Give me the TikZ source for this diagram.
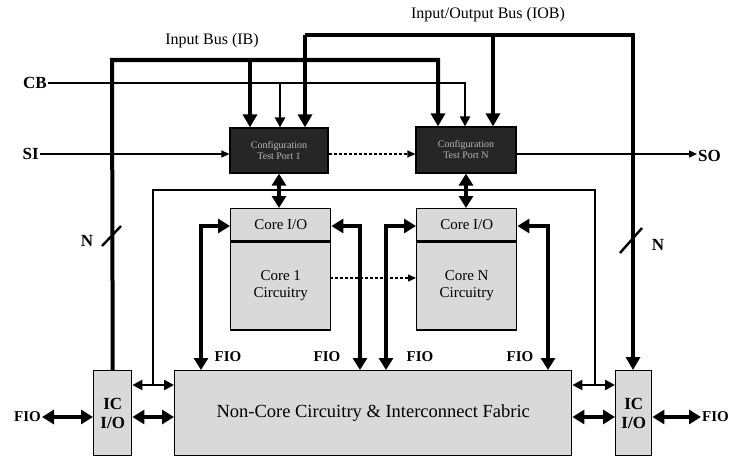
\documentclass[tikz,border=0pt]{standalone}
\usepackage{fontspec}
\setmainfont{Liberation Serif}
\usetikzlibrary{arrows.meta,calc}
\begin{document}
\begin{tikzpicture}[x=1pt,y=-1pt,
  bus/.style={line width=4pt},
  midline/.style={line width=2.4pt},
  thinline/.style={line width=1.2pt},
  bighead/.style={-{Triangle[length=13pt,width=14pt]}},
  bigboth/.style={{Triangle[length=12pt,width=14pt]}-{Triangle[length=12pt,width=14pt]}},
  medhead/.style={-{Triangle[length=10pt,width=10pt]}},
  smallhead/.style={-{Triangle[length=8pt,width=7pt]}},
  darkbox/.style={draw=black,line width=1.2pt,fill=black!85,text=gray!55,align=center,
     font=\fontsize{10}{11}\selectfont,inner sep=0pt},
  graybox/.style={draw=black,line width=1.4pt,fill=gray!30,align=center,inner sep=0pt,
     font=\fontsize{15}{17}\selectfont},
  lbl/.style={font=\fontsize{17}{19}\selectfont\bfseries,inner sep=1pt},
  flbl/.style={font=\fontsize{15}{17}\selectfont\bfseries,inner sep=1pt},
]
\useasboundingbox (0,0) rectangle (738,460);

% ---- boxes
\node[darkbox,minimum width=98pt,minimum height=45pt] (tp1) at (279,150.5) {Configuration\\Test Port 1};
\node[darkbox,minimum width=100pt,minimum height=46pt] (tpN) at (466,150) {Configuration\\Test Port N};

\node[graybox,anchor=north west,minimum width=100pt,minimum height=32pt] (io1) at (230,208) {Core I/O};
\node[graybox,anchor=north,minimum width=100pt,minimum height=88pt] (c1) at (io1.south) {Core 1\\Circuitry};
\node[graybox,anchor=north west,minimum width=100pt,minimum height=32pt] (ioN) at (416,208) {Core I/O};
\node[graybox,anchor=north,minimum width=100pt,minimum height=88pt] (cN) at (ioN.south) {Core N\\Circuitry};

\node[graybox,anchor=north west,minimum width=397pt,minimum height=85pt,font=\fontsize{18.5}{20}\selectfont] (nc) at (174,370) {Non-Core Circuitry \& Interconnect Fabric};
\node[graybox,anchor=north west,minimum width=38pt,minimum height=85pt,font=\fontsize{17}{19}\selectfont\bfseries] (icl) at (93,370) {IC\\I/O};
\node[graybox,anchor=north west,minimum width=36pt,minimum height=85pt,font=\fontsize{17}{19}\selectfont\bfseries] (icr) at (615,370) {IC\\I/O};

% ---- labels
\node[font=\fontsize{16}{18}\selectfont] (iblbl) at (212,41) {Input Bus (IB)};
\node[font=\fontsize{16}{18}\selectfont] (ioblbl) at (488,15) {Input/Output Bus (IOB)};
\node[lbl,anchor=east] (cb) at (48,83) {CB};
\node[lbl,anchor=east] (si) at (40,154) {SI};
\node[lbl,anchor=west] (so) at (697,156) {SO};
\node[lbl] (nl) at (87,241) {N};
\node[lbl] (nr) at (658,245) {N};
\node[flbl,anchor=east] (fiol) at (42,417) {FIO};
\node[flbl,anchor=west] (fior) at (701,417) {FIO};
\node[flbl] (f1) at (228,357) {FIO};
\node[flbl] (f2) at (327,357) {FIO};
\node[flbl] (f3) at (420,357) {FIO};
\node[flbl] (f4) at (520,357) {FIO};

% ---- coordinates
\coordinate (ibL) at (112,60);
\coordinate (ibR) at (438,60);
\coordinate (ib1) at (250,60);
\coordinate (cbR) at (465,83);
\coordinate (cb1) at (280,83);
\coordinate (iobL) at (305,35);
\coordinate (iobR) at (633,35);
\coordinate (iobN) at (493,35);
\coordinate (hl) at (153,190);
\coordinate (hr) at (595,190);
\coordinate (sl) at (153,385);
\coordinate (sr) at (595,385);
\coordinate (a1) at (201,226);
\coordinate (b1) at (360,226);
\coordinate (aN) at (386,226);
\coordinate (bN) at (548,226);
\coordinate (dot) at (330,278);
\coordinate (fl) at (0,417);

% ---- input bus
\draw[bus,bighead] (icl.north) -- (ibL) -- (ibR) -- (ibR |- tpN.north);
\draw[bus,bighead] (ib1) -- (ib1 |- tp1.north);
% ---- CB
\draw[midline,medhead] (cb.east) -- (cbR) -- (cbR |- tpN.north);
\draw[midline,medhead] (cb1) -- (cb1 |- tp1.north);
% ---- IOB
\draw[bus,bighead] (iobL) -- (iobL |- tp1.north);
\draw[bus,bighead] (iobL) -- (iobR) -- (iobR |- icr.north);
\draw[bus,bighead] (iobN) -- (iobN |- tpN.north);
% ---- slashes
\draw[midline] (102,246) -- (121,226);
\draw[midline] (620,253) -- (642,228);

% ---- scan chain
\draw[thinline,smallhead] (si.east) -- (si.east -| tp1.west);
\draw[thinline,densely dashed,smallhead] (tp1.east |- 0,154) -- (tpN.west |- 0,154);
\draw[thinline,smallhead] (tpN.east |- 0,154) -- (so.west |- 0,154);

% ---- test port to core I/O
\draw[bus,bigboth] (tp1.south) -- (tp1.south |- io1.north);
\draw[bus,bigboth] (tpN.south) -- (tpN.south |- ioN.north);

% ---- loop line
\draw[midline] (sl) -- (hl) -- (hr) -- (sr);
\draw[midline,medhead] (sl) -- (sl -| icl.east);
\draw[midline,medhead] (sl) -- (sl -| nc.west);
\draw[midline,medhead] (sr) -- (sr -| nc.east);
\draw[midline,medhead] (sr) -- (sr -| icr.west);

% ---- core FIO
\draw[bus,bigboth] (a1 |- nc.north) -- (a1) -- (a1 -| io1.west);
\draw[bus,bigboth] (b1 |- nc.north) -- (b1) -- (b1 -| io1.east);
\draw[bus,bigboth] (aN |- nc.north) -- (aN) -- (aN -| ioN.west);
\draw[bus,bigboth] (bN |- nc.north) -- (bN) -- (bN -| ioN.east);

% ---- core to core
\draw[thinline,densely dashed,smallhead] (dot) -- (dot -| cN.west);

% ---- bottom FIO
\draw[bus,bigboth] (fiol.east) -- (fiol.east -| icl.west);
\draw[bus,bigboth] (icl.east |- fl) -- (nc.west |- fl);
\draw[bus,bigboth] (nc.east |- fl) -- (icr.west |- fl);
\draw[bus,bigboth] (icr.east |- fl) -- (fior.west);
\end{tikzpicture}
\end{document}
